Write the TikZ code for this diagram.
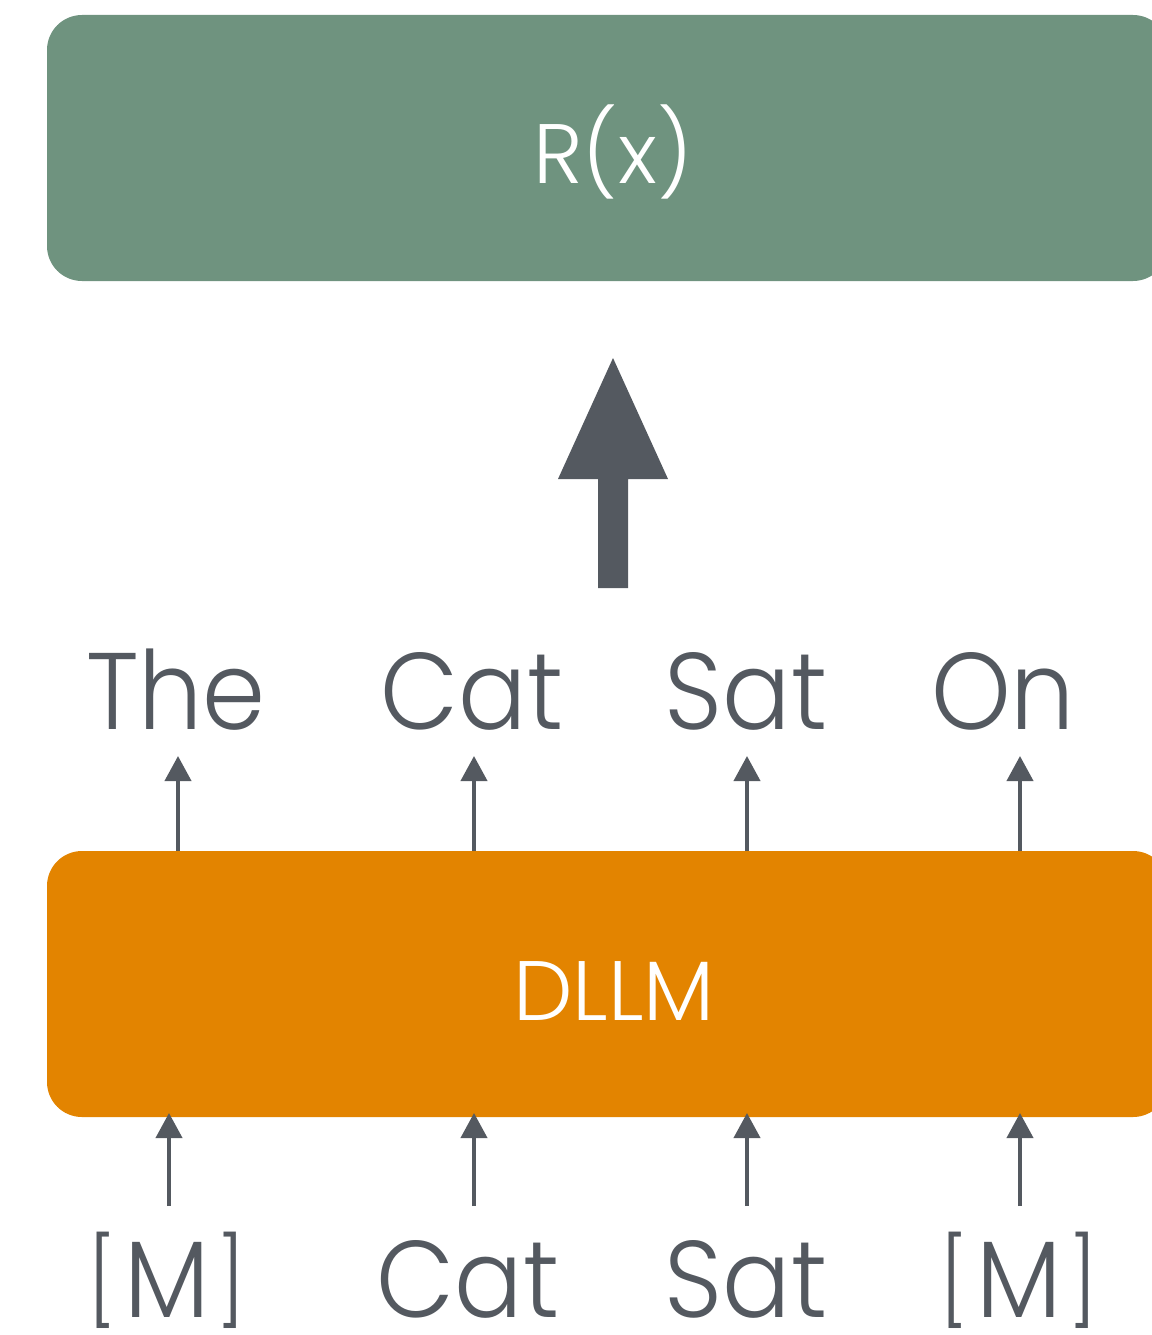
\documentclass[tikz,border=0pt]{standalone}
\usepackage{fontspec}
\setmainfont{Poppins}[UprightFont=* Light]
\newfontfamily\wordfont{Poppins}[UprightFont=* Light, FakeStretch=0.93]
\usetikzlibrary{arrows.meta}
\definecolor{sage}{HTML}{6F937F}
\definecolor{amber}{HTML}{E38400}
\definecolor{slate}{HTML}{545960}
% slimmer square brackets for the mask token
\newcommand\bkt[1]{{\fontsize{49}{58}\selectfont\raisebox{0.1cm}{#1}}}
\newcommand\masktok{\bkt{[}\kern0.14cm M\kern0.14cm\bkt{]}}
\tikzset{
  panel/.style={rounded corners=0.7cm},
  title/.style={anchor=base, inner sep=0pt, text=white, font=\fontsize{48}{58}\selectfont},
  word/.style={anchor=base, inner sep=0pt, text=slate, font=\wordfont\fontsize{62}{74}\selectfont},
  tokarrow/.style={draw=slate, line width=0.08cm, -{Triangle[length=0.5cm,width=0.52cm]}},
}
\begin{document}
\begin{tikzpicture}[x=0.02cm, y=-0.02cm]
\useasboundingbox (0,0) rectangle (1152,1335);

% reward panel and model panel
\fill[sage, panel] (47,15) rectangle (1168,281);
\node[title] (reward) at (613,183) {R(x)};
\fill[amber, panel] (47,851) rectangle (1168,1117);
\node[title] (dllm) at (614,1020) {DLLM};

% block arrow from outputs to reward
\fill[slate] (598,588) -- (598,479) -- (558,479) -- (613,358) -- (668,479) -- (628,479) -- (628,588) -- cycle;

% output tokens
\node[word] (o1) at (176,729) {The};
\node[word] (o2) at (472,729) {Cat};
\node[word] (o3) at (746,729) {Sat};
\node[word] (o4) at (1003,729) {On};

% input tokens
\node[word] (i1) at (167,1317) {\masktok};
\node[word] (i2) at (468,1317) {Cat};
\node[word] (i3) at (746,1317) {Sat};
\node[word] (i4) at (1019,1317) {\masktok};

% arrow end points
\foreach \n/\x in {1/178, 2/474, 3/747, 4/1020} {
  \coordinate (ot\n) at (\x,851);
  \coordinate (oh\n) at (\x,756);
}
\foreach \n/\x in {1/169, 2/474, 3/747, 4/1020} {
  \coordinate (ib\n) at (\x,1206);
  \coordinate (ih\n) at (\x,1113);
}
\foreach \n in {1,...,4} {
  \draw[tokarrow] (ot\n) -- (oh\n);
  \draw[tokarrow] (ib\n) -- (ih\n);
}
\end{tikzpicture}
\end{document}
